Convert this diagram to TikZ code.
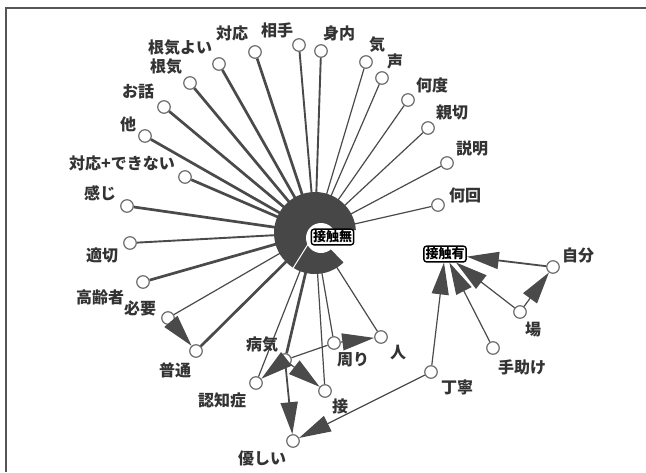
\documentclass[tikz,border=0pt]{standalone}
\usepackage{fontspec}
\setmainfont{Noto Sans CJK JP}
\usetikzlibrary{arrows.meta}
\definecolor{linegray}{HTML}{4a4a4a}
\definecolor{hubgray}{HTML}{474747}
\definecolor{circgray}{HTML}{6e6e6e}
\definecolor{txtgray}{HTML}{333333}
\definecolor{framegray}{HTML}{555555}
\begin{document}
\begin{tikzpicture}[x=1pt,y=-1pt,
  pt/.style={circle,draw=circgray,fill=white,line width=1.2pt,minimum size=12.5pt,inner sep=0pt},
  lbl/.style={font=\fontsize{16}{16}\selectfont\bfseries,text=txtgray,inner sep=0pt},
  spokeA/.style={draw=linegray,line width=2.7pt},
  spokeB/.style={draw=linegray,line width=1.9pt},
  spokeC/.style={draw=linegray,line width=1.2pt},
  arr/.style={draw=linegray,line width=1.2pt,-{Triangle[length=32pt,width=17pt]}},
  hubbox/.style={draw=black,line width=1.4pt,rounded corners=2.5pt,fill=white,inner sep=1.6pt,font=\fontsize{13}{13}\selectfont\bfseries,text=black}
]
\useasboundingbox (0,0) rectangle (646,472);
% frame (top and left edges)
\draw[framegray,line width=1.8pt] (6,472) -- (6,8) -- (646,8);

\coordinate (hubc) at (315,233);

% outer circles
\node[pt] (aite) at (299,45) {};
\node[pt] (taiou) at (255,52) {};
\node[pt] (konkiyoi) at (219,64) {};
\node[pt] (konki) at (190,83) {};
\node[pt] (ohanashi) at (164,107) {};
\node[pt] (hoka) at (145,136) {};
\node[pt] (taioudekinai) at (185,177) {};
\node[pt] (kanji) at (127,206) {};
\node[pt] (miuchi) at (321,51) {};
\node[pt] (ki) at (366,62) {};
\node[pt] (koe) at (382,78) {};
\node[pt] (nando) at (408,100) {};
\node[pt] (shinsetsu) at (428,128) {};
\node[pt] (setsumei) at (447,163) {};
\node[pt] (nankai) at (438,205) {};
\node[pt] (tekisetsu) at (130,243) {};
\node[pt] (koureisha) at (143,282) {};
\node[pt] (hitsuyou) at (168,318) {};
\node[pt] (futsuu) at (196,351) {};
\node[pt] (byouki) at (285,360) {};
\node[pt] (ninchi) at (256,383) {};
\node[pt] (setsu) at (325,391) {};
\node[pt] (yasashii) at (293,441) {};
\node[pt] (mawari) at (334,343) {};
\node[pt] (hito) at (381,337) {};
\node[pt] (teinei) at (431,372) {};
\node[pt] (tedasuke) at (493,348) {};
\node[pt] (ba) at (520,312) {};
\node[pt] (jibun) at (553,267) {};

% spokes to hub
\draw[spokeB] (aite) -- (hubc);
\draw[spokeA] (taiou) -- (hubc);
\draw[spokeA] (konkiyoi) -- (hubc);
\draw[spokeA] (konki) -- (hubc);
\draw[spokeA] (ohanashi) -- (hubc);
\draw[spokeA] (hoka) -- (hubc);
\draw[spokeA] (taioudekinai) -- (hubc);
\draw[spokeA] (kanji) -- (hubc);
\draw[spokeB] (miuchi) -- (hubc);
\draw[spokeC] (ki) -- (hubc);
\draw[spokeC] (koe) -- (hubc);
\draw[spokeC] (nando) -- (hubc);
\draw[spokeC] (shinsetsu) -- (hubc);
\draw[spokeC] (setsumei) -- (hubc);
\draw[spokeC] (nankai) -- (hubc);
\draw[spokeB] (tekisetsu) -- (hubc);
\draw[spokeA] (koureisha) -- (hubc);
\draw[spokeC] (hitsuyou) -- (hubc);
\draw[spokeA] (futsuu) -- (hubc);
\draw[spokeA] (byouki) -- (hubc);
\draw[spokeC] (ninchi) -- (hubc);
\draw[spokeC] (setsu) -- (hubc);
\draw[spokeC] (mawari) -- (hubc);
\draw[spokeC] (hito) -- (hubc);

% hub ring
\fill[hubgray] (hubc) -- ++(46:41) arc[start angle=46,end angle=356,radius=41] -- cycle;
\fill[white] (321,238) circle[radius=15];
\draw[white,line width=1pt] (hubc) -- ++(122:43);
\node[hubbox] (mu) at (332.5,237) {接触無};
\node[hubbox] (ari) at (445,254) {接触有};

% directed edges
\draw[arr] (hitsuyou) -- (futsuu);
\draw[arr] (byouki) -- (ninchi);
\draw[arr] (byouki) -- (setsu);
\draw[arr,line width=1.8pt] (byouki) -- (yasashii);
\draw[spokeC] (byouki) -- (mawari);
\draw[arr] (mawari) -- (hito);
\draw[arr] (teinei) -- (yasashii);
\draw[arr] (teinei) -- (ari);
\draw[arr] (tedasuke) -- (ari);
\draw[arr] (ba) -- (ari);
\draw[arr,line width=1.8pt] (jibun) -- (ari);
\draw[arr] (ba) -- (jibun);

% labels
\node[lbl] at (277,30) {相手};
\node[lbl] at (232,33) {対応};
\node[lbl] at (180,48) {根気よい};
\node[lbl] at (166,67) {根気};
\node[lbl] at (138,91) {お話};
\node[lbl] at (128,124) {他};
\node[lbl] at (122,163) {対応+できない};
\node[lbl] at (100,193) {感じ};
\node[lbl] at (339,33) {身内};
\node[lbl] at (377,45) {気};
\node[lbl] at (395,61) {声};
\node[lbl] at (432,85) {何度};
\node[lbl] at (452,113) {親切};
\node[lbl] at (472,148) {説明};
\node[lbl] at (465,195) {何回};
\node[lbl] at (102,255) {適切};
\node[lbl] at (100,297) {高齢者};
\node[lbl] at (140,308) {必要};
\node[lbl] at (175,370) {普通};
\node[lbl] at (262,345) {病気};
\node[lbl] at (222,400) {認知症};
\node[lbl] at (340,406) {接};
\node[lbl] at (262,458) {優しい};
\node[lbl] at (353,360) {周り};
\node[lbl] at (398,353) {人};
\node[lbl] at (457,387) {丁寧};
\node[lbl] at (522,367) {手助け};
\node[lbl] at (533,330) {場};
\node[lbl] at (578,255) {自分};
\end{tikzpicture}
\end{document}
